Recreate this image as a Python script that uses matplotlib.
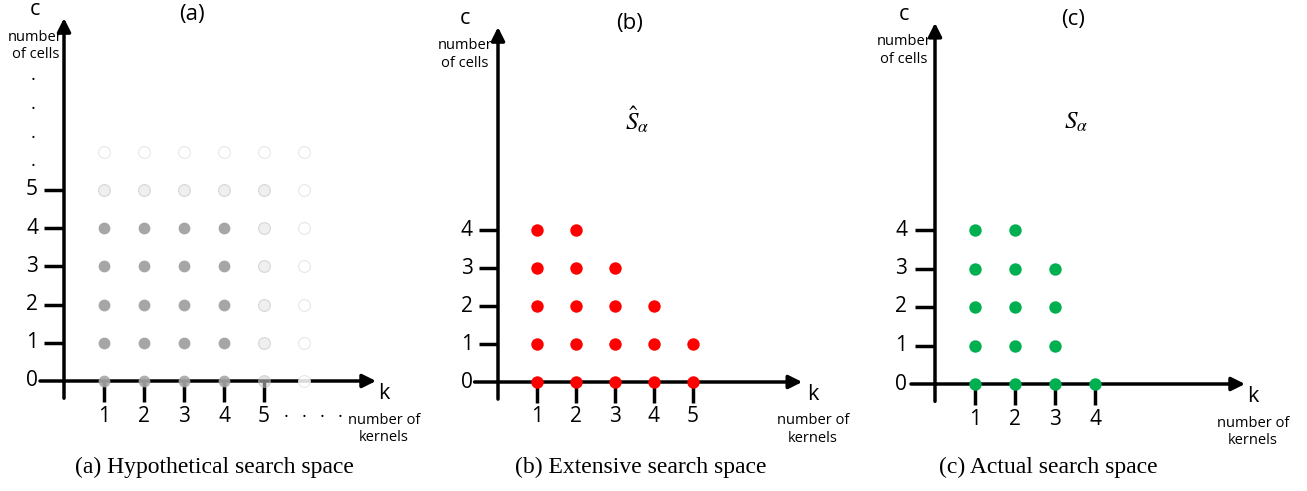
import matplotlib
matplotlib.use('Agg')
import matplotlib.pyplot as plt

plt.rcParams['font.family'] = ['Open Sans', 'DejaVu Sans']
plt.rcParams['mathtext.fontset'] = 'stix'

# Panel (a): hypothetical search space, points grouped by shade
a_dark_k = [1, 2, 3, 4, 1, 2, 3, 4, 1, 2, 3, 4, 1, 2, 3, 4]
a_dark_c = [1, 1, 1, 1, 2, 2, 2, 2, 3, 3, 3, 3, 4, 4, 4, 4]
a_axis_k = [1, 2, 3, 4]          # dark points sitting on the k axis (c = 0)
a_light_k = [1, 2, 3, 4, 5, 5, 5, 5, 5]
a_light_c = [5, 5, 5, 5, 5, 4, 3, 2, 1]
a_faint_k = [1, 2, 3, 4, 5, 6, 6, 6, 6, 6, 6, 6]
a_faint_c = [6, 6, 6, 6, 6, 6, 5, 4, 3, 2, 1, 0]
a_xticks = [1, 2, 3, 4, 5]
a_yticks = [0, 1, 2, 3, 4, 5]

# Panel (b): extensive search space, largest c for each k
b_kernels = [1, 2, 3, 4, 5]
b_max_cells = [4, 4, 3, 2, 1]
b_xticks = [1, 2, 3, 4, 5]
b_yticks = [0, 1, 2, 3, 4]

# Panel (c): actual search space
c_kernels = [1, 2, 3, 4]
c_max_cells = [4, 4, 3, 0]
c_xticks = [1, 2, 3, 4]
c_yticks = [0, 1, 2, 3, 4]

captions = ['(a) Hypothetical search space', '(b) Extensive search space',
            '(c) Actual search space']

W, H = 1307, 491
fig = plt.figure(figsize=(W / 100, H / 100), dpi=100)
LW = 2.5


def panel(x0, y0, sx, sy):
    # one transparent axes over the whole figure, scaled so that
    # (k=0, c=0) lands on pixel (x0, y0)
    ax = fig.add_axes([0, 0, 1, 1])
    ax.set_xlim(-x0 / sx, (W - x0) / sx)
    ax.set_ylim((y0 - H) / sy, y0 / sy)
    ax.axis('off')
    ax.patch.set_alpha(0)
    return ax


def draw_axes(ax, xticks, yticks, xtop, ytop, ylab_x, letter, letter_x,
              clab_x, klab_x):
    arrow = dict(arrowstyle='-|>', lw=LW, color='black', mutation_scale=20,
                 shrinkA=0, shrinkB=0)
    ax.annotate('', xy=(xtop, 0), xytext=(-0.6, 0), arrowprops=arrow)
    ax.annotate('', xy=(0, ytop), xytext=(0, -0.45), arrowprops=arrow)
    for k in xticks:
        ax.plot([k, k], [0, -0.55], color='black', lw=LW, solid_capstyle='butt')
        ax.text(k, -0.92, str(k), ha='center', va='center', fontsize=15)
    for c in yticks:
        if c > 0:
            ax.plot([-0.5, 0], [c, c], color='black', lw=LW,
                    solid_capstyle='butt')
        ax.text(ylab_x, c, str(c), ha='center', va='center', fontsize=15)
    ax.text(clab_x, ytop + 0.22, 'c', ha='center', va='center', fontsize=15.5)
    ax.text(clab_x, ytop - 0.72, 'number\nof cells', ha='center',
            va='center', fontsize=10.5, linespacing=1.2)
    ax.text(klab_x, -0.33, 'k', ha='center', va='center', fontsize=15.5)
    ax.text(klab_x, -1.25, 'number of\nkernels', ha='center', va='center',
            fontsize=10.5, linespacing=1.2)
    ax.text(letter_x, ytop + 0.1, letter, ha='center', va='center',
            fontsize=16)


def expand(kernels, max_cells):
    ks, cs = [], []
    for k, m in zip(kernels, max_cells):
        for c in range(m + 1):
            ks.append(k)
            cs.append(c)
    return ks, cs


# ---- (a)
ax = panel(64, 381, 40, 38.2)
draw_axes(ax, a_xticks, a_yticks, 7.8, 9.5, -0.8, '(a)', 3.2, -0.72, 8.0)
ax.scatter(a_dark_k, a_dark_c, s=72, color='#a6a6a6', zorder=5, linewidths=0)
ax.scatter(a_axis_k, [0] * len(a_axis_k), s=72, color='#a6a6a6', alpha=0.9,
           zorder=5, linewidths=0)
ax.scatter(a_light_k, a_light_c, s=72, facecolor='#efefef',
           edgecolor='#d6d6d6', linewidths=0.8, zorder=5)
ax.scatter([5], [0], s=72, facecolor='#d0d0d0', edgecolor='#bbbbbb',
           alpha=0.55, linewidths=0.8, zorder=5)
ax.scatter(a_faint_k, a_faint_c, s=72, facecolor='white',
           edgecolor='#e2e2e2', linewidths=0.8, alpha=0.85, zorder=5)
for c in [5.62, 6.37, 7.12, 7.87]:
    ax.text(-0.78, c, '.', ha='center', va='baseline', fontsize=13)
for k in [5.55, 6.0, 6.45, 6.9]:
    ax.text(k, -0.95, '.', ha='center', va='baseline', fontsize=13)

# ---- (b)
ax = panel(498, 382, 39, 38)
draw_axes(ax, b_xticks, b_yticks, 7.8, 9.34, -0.8, '(b)', 3.38, -0.85, 8.08)
bk, bc = expand(b_kernels, b_max_cells)
ax.scatter(bk, bc, s=80, color='#ff0000', zorder=5, linewidths=0)
ax.text(3.56, 6.9, r'$\hat{S}_{\alpha}$', ha='center', va='center',
        fontsize=18)

# ---- (c)
ax = panel(935, 384, 40, 38.5)
draw_axes(ax, c_xticks, c_yticks, 7.75, 9.38, -0.85, '(c)', 3.45, -0.78, 7.95)
ck, cc = expand(c_kernels, c_max_cells)
ax.scatter(ck, cc, s=80, color='#00b050', zorder=5, linewidths=0)
ax.text(3.52, 6.8, r'$S_{\alpha}$', ha='center', va='center', fontsize=18)

for x, cap in zip([214, 641, 1048], captions):
    fig.text(x / W, 1 - 467 / H, cap, ha='center', va='center', fontsize=17,
             family=['Liberation Serif', 'DejaVu Serif'])

fig.savefig('out.png', dpi=100, facecolor='white')
